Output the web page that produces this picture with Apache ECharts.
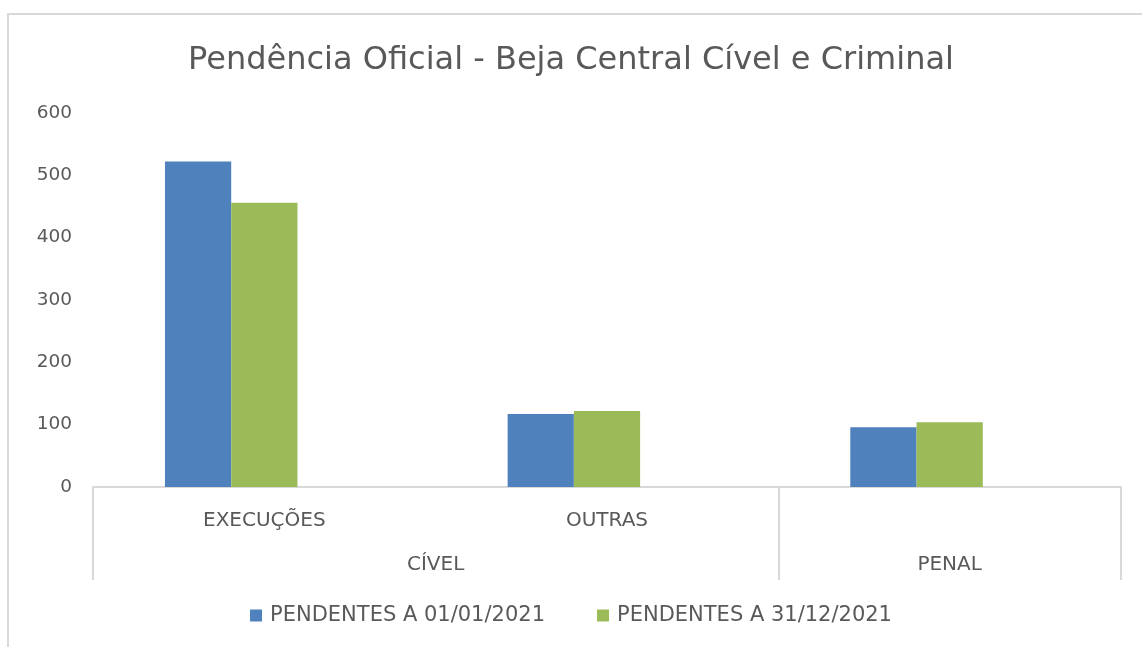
<!DOCTYPE html>
<html>
<head>
<meta charset="utf-8">
<script src="https://cdn.jsdelivr.net/npm/echarts@6/dist/echarts.min.js"></script>
<style>html,body{margin:0;padding:0;background:#fff;}#c{width:1142px;height:647px;}</style>
</head>
<body>
<div id="c"></div>
<script>
const titleText = 'Pendência Oficial - Beja Central Cível e Criminal';
const categories = ['EXECUÇÕES', 'OUTRAS', ''];
const groups = ['CÍVEL', 'PENAL'];
const groupCenters = [1, 2.5];
const groupBounds = [0, 2, 3];
const seriesNames = ['PENDENTES A 01/01/2021', 'PENDENTES A 31/12/2021'];
const pend0101 = [522, 117, 96];
const pend3112 = [456, 122, 104];
// empty third slot in each cluster (the original chart reserves it, leaving bars left of centre)
const emptySlot = ['-', '-', '-'];
const colors = ['#4F81BD', '#9BBB59'];
const FONT = 'DejaVu Sans';
const TXT = '#595959';

const chart = echarts.init(document.getElementById('c'), null, {renderer: 'canvas'});
chart.setOption({
  animation: false,
  backgroundColor: '#fff',
  graphic: [{
    type: 'rect', shape: {x: 8, y: 14, width: 1200, height: 700},
    style: {fill: 'none', stroke: '#d9d9d9', lineWidth: 2}, silent: true, z: -10
  }],
  title: {
    text: titleText, left: 'center', top: 40,
    textStyle: {fontFamily: FONT, fontSize: 32, fontWeight: 'normal', color: TXT}
  },
  legend: {
    bottom: 16, left: 'center', itemWidth: 12, itemHeight: 12, itemGap: 52,
    icon: 'rect',
    textStyle: {fontFamily: FONT, fontSize: 21, color: TXT, padding: [0, 0, 0, 3]},
    data: seriesNames
  },
  grid: {left: 93, right: 21, top: 113, bottom: 160, containLabel: false},
  xAxis: [{
    type: 'category', data: categories, position: 'bottom',
    axisLine: {show: true, lineStyle: {color: '#d9d9d9', width: 2}},
    axisTick: {show: false},
    axisLabel: {fontFamily: FONT, fontSize: 20, color: TXT, margin: 24, interval: 0}
  }, {
    type: 'value', min: 0, max: 3, position: 'bottom',
    axisLine: {show: false},
    splitLine: {show: false},
    axisTick: {show: true, customValues: groupBounds, length: 93, lineStyle: {color: '#d9d9d9', width: 2}},
    axisLabel: {
      customValues: groupCenters, margin: 68, fontFamily: FONT, fontSize: 20, color: TXT,
      formatter: function (v) { const i = groupCenters.indexOf(v); return i >= 0 ? groups[i] : ''; }
    }
  }],
  yAxis: {
    type: 'value', min: 0, max: 600, interval: 100,
    axisLine: {show: false}, axisTick: {show: false}, splitLine: {show: false},
    axisLabel: {fontFamily: FONT, fontSize: 18.5, color: TXT, margin: 21}
  },
  series: [{
    name: seriesNames[0], type: 'bar', data: pend0101, xAxisIndex: 0,
    itemStyle: {color: colors[0]}, barGap: '0%', barCategoryGap: '42%'
  }, {
    name: seriesNames[1], type: 'bar', data: pend3112, xAxisIndex: 0,
    itemStyle: {color: colors[1]}, barGap: '0%', barCategoryGap: '42%'
  }, {
    name: 'slot', type: 'bar', data: emptySlot, xAxisIndex: 0,
    itemStyle: {color: 'rgba(0,0,0,0)'}, barGap: '0%', barCategoryGap: '42%',
    silent: true, tooltip: {show: false}
  }]
});
</script>
</body>
</html>
